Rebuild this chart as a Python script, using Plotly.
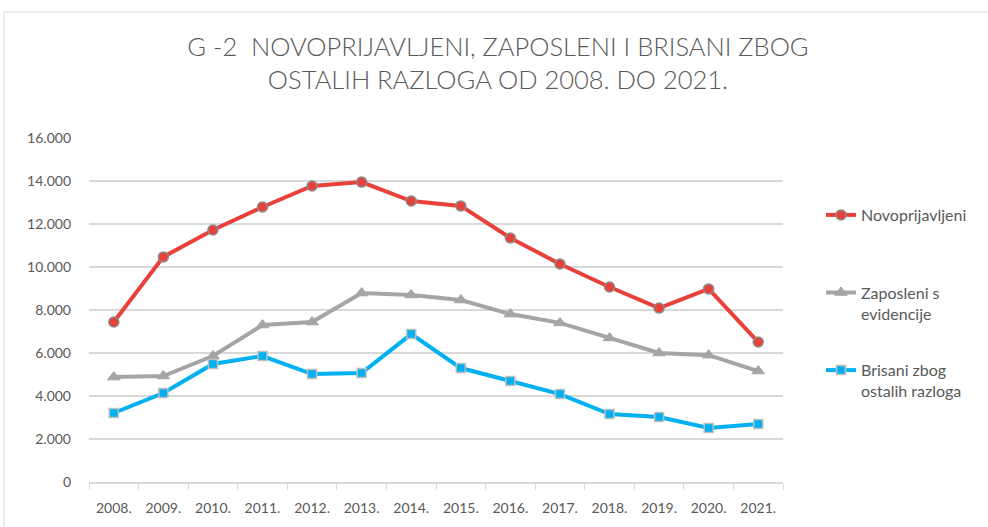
import plotly.graph_objects as go

years = ["2008.", "2009.", "2010.", "2011.", "2012.", "2013.", "2014.",
         "2015.", "2016.", "2017.", "2018.", "2019.", "2020.", "2021."]
novoprijavljeni = [7440, 10470, 11720, 12790, 13770, 13950, 13070,
                   12840, 11350, 10140, 9070, 8090, 8980, 6510]
zaposleni = [4880, 4930, 5860, 7300, 7440, 8790, 8700,
             8465, 7810, 7400, 6700, 6000, 5900, 5160]
brisani = [3210, 4140, 5490, 5860, 5020, 5070, 6880,
           5300, 4700, 4090, 3160, 3020, 2510, 2700]
y_ticks = [0, 2000, 4000, 6000, 8000, 10000, 12000, 14000, 16000]

FONT = "Lato"
TXT = "#595959"

fig = go.Figure()
fig.add_trace(go.Scatter(
    x=years, y=novoprijavljeni, name="Novoprijavljeni<br>&nbsp;", mode="lines+markers",
    line=dict(color="#E8403A", width=4),
    marker=dict(symbol="circle", size=10, color="#E8403A",
                line=dict(color="#8C8C8C", width=1.5)),
    legendgroup="a"))
fig.add_trace(go.Scatter(
    x=years, y=zaposleni, name="Zaposleni s<br>evidencije", mode="lines+markers",
    line=dict(color="#A5A5A5", width=4),
    marker=dict(symbol="triangle-up", size=11, color="#A5A5A5",
                line=dict(color="#A5A5A5", width=1)),
    legendgroup="b"))
fig.add_trace(go.Scatter(
    x=years, y=brisani, name="Brisani zbog<br>ostalih razloga", mode="lines+markers",
    line=dict(color="#00B0F0", width=4),
    marker=dict(symbol="square", size=9, color="#00B0F0",
                line=dict(color="#BFBFBF", width=1.5)),
    legendgroup="c"))

W, H = 988, 527
L, R, T, B = 89, 205, 138, 45
pw, ph = W - L - R, H - T - B

def px_x(p):
    return (p - L) / pw

def px_y(p):
    return (H - B - p) / ph

fig.add_shape(type="rect", xref="paper", yref="paper",
              x0=px_x(4), x1=px_x(1100), y0=px_y(600), y1=px_y(12),
              line=dict(color="#D9D9D9", width=1), fillcolor="rgba(0,0,0,0)",
              layer="below")

fig.update_layout(
    width=W, height=H,
    margin=dict(l=L, r=R, t=T, b=B),
    paper_bgcolor="white", plot_bgcolor="white",
    separators=",.",
    font=dict(family=FONT, color=TXT, size=14),
    title=dict(text="G -2&nbsp; NOVOPRIJAVLJENI, ZAPOSLENI I BRISANI ZBOG<br>OSTALIH RAZLOGA OD 2008. DO 2021.",
               x=0.504, xanchor="center", y=1 - 56 / H, yanchor="middle",
               font=dict(family=FONT, size=25.5, color=TXT, weight=300)),
    showlegend=True,
    legend=dict(x=px_x(821), xanchor="left", y=px_y(198), yanchor="top",
                valign="top", tracegroupgap=33, font=dict(size=16, color=TXT),
                bgcolor="rgba(0,0,0,0)"),
    xaxis=dict(type="category", showgrid=False, showline=True,
               linecolor="#D9D9D9", linewidth=1.5, ticks="outside",
               ticklen=6, tickcolor="#D9D9D9", tickson="boundaries",
               ticklabelstandoff=12,
               tickfont=dict(size=14, color=TXT), range=[-0.5, 13.5]),
    yaxis=dict(range=[0, 16000], tickvals=y_ticks, tickformat=",d",
               showgrid=True, gridcolor="#D9D9D9", gridwidth=1.5,
               zeroline=False, showline=False, ticks="",
               ticklabelstandoff=17,
               tickfont=dict(size=14, color=TXT)),
)

fig.write_html("out.html")
